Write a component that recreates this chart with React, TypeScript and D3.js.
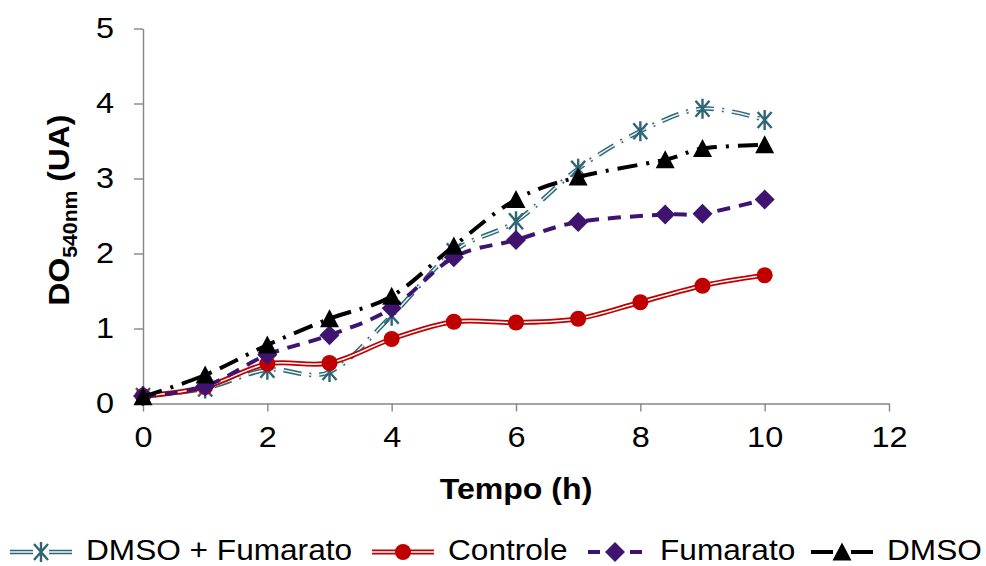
import React, { useEffect, useRef } from "react";
import * as d3 from "d3";

// Sampling times (h)
const hoursA = [0, 1, 2, 3, 4, 5, 6, 7, 8, 9, 10];
const hoursB = [0, 1, 2, 3, 4, 5, 6, 7, 8.4, 9, 10];

// Optical density at 540 nm (UA)
const dmsoFumarato = [0.1, 0.2, 0.45, 0.42, 1.17, 2.03, 2.43, 3.13, 3.63, 3.93, 3.78];
const controle = [0.1, 0.22, 0.53, 0.54, 0.86, 1.09, 1.08, 1.13, 1.35, 1.57, 1.71];
const fumarato = [0.1, 0.23, 0.65, 0.91, 1.27, 1.95, 2.18, 2.42, 2.52, 2.53, 2.72];
const dmso = [0.09, 0.38, 0.78, 1.13, 1.43, 2.1, 2.72, 3.02, 3.25, 3.4, 3.45];

const seriesNames = ["DMSO + Fumarato", "Controle", "Fumarato", "DMSO"];

const xTicks = [0, 2, 4, 6, 8, 10, 12];
const yTicks = [0, 1, 2, 3, 4, 5];

const FONT = "'Liberation Sans', Arial, Helvetica, sans-serif";
const STRETCH = 1.12; // slightly wide lettering

type Marker = "star" | "circle" | "diamond" | "triangle";
interface Style {
  color: string;
  inner?: string;
  outerW: number;
  innerW?: number;
  dash?: string;
  marker: Marker;
  keyGap: number;  // gap between key line and marker in the legend
  keyStart: number; // offset where the left key line starts
}

const styles: Style[] = [
  { color: "#2E6675", inner: "#E6F2F5", outerW: 4.5, innerW: 1.6, dash: "18 8 2 8", marker: "star", keyGap: 8, keyStart: 0 },
  { color: "#C00000", inner: "#FFFFFF", outerW: 5, innerW: 1.5, marker: "circle", keyGap: 0, keyStart: 0 },
  { color: "#3F1470", outerW: 4, dash: "13 9", marker: "diamond", keyGap: 15, keyStart: 4 },
  { color: "#000000", outerW: 4, dash: "20 9 3 9", marker: "triangle", keyGap: 9, keyStart: 0 },
];

function markerPath(m: Marker): string {
  switch (m) {
    case "circle": {
      const p = d3.path();
      p.arc(0, 0, 8, 0, Math.PI * 2);
      return p.toString();
    }
    case "diamond":
      return "M0,-10L10,0L0,10L-10,0Z";
    case "triangle":
      return "M0,-9.5L9.5,8.5L-9.5,8.5Z";
    case "star":
      return "M-7,-8L7,8M7,-8L-7,8M0,-10L0,10";
  }
}

export default function App() {
  const ref = useRef<SVGSVGElement>(null);

  useEffect(() => {
    const svg = d3.select(ref.current);
    svg.selectAll("*").remove();

    const x = d3.scaleLinear().domain([0, 12]).range([143, 889]);
    const y = d3.scaleLinear().domain([0, 5]).range([403.5, 28.5]);

    const axisColor = "#868686";

    // Axes
    const gy = svg
      .append("g")
      .attr("transform", `translate(${x(0)},0)`)
      .call(d3.axisLeft(y).tickValues(yTicks).tickSize(9).tickSizeOuter(0).tickPadding(20).tickFormat(d3.format("d")));
    const gx = svg
      .append("g")
      .attr("transform", `translate(0,${y(0)})`)
      .call(d3.axisBottom(x).tickValues(xTicks).tickSize(8).tickSizeOuter(0).tickPadding(15).tickFormat(d3.format("d")));
    [gx, gy].forEach((g) => {
      g.select(".domain").attr("stroke", axisColor).attr("stroke-width", 1.4);
      g.selectAll(".tick line").attr("stroke", axisColor).attr("stroke-width", 1.4);
      g.selectAll(".tick text")
        .attr("fill", "#000")
        .style("font-family", FONT)
        .style("font-size", "29px");
    });
    // widen the tick lettering about each label's anchor
    gy.selectAll<SVGTextElement, number>(".tick text").each(function () {
      const t = d3.select(this);
      const x0 = +t.attr("x");
      t.attr("x", x0 / STRETCH).attr("transform", `scale(${STRETCH},1)`);
    });
    gx.selectAll(".tick text").attr("transform", `scale(${STRETCH},1)`);

    const series = [
      { xs: hoursA, ys: dmsoFumarato },
      { xs: hoursA, ys: controle },
      { xs: hoursB, ys: fumarato },
      { xs: hoursB, ys: dmso },
    ];

    const line = d3
      .line<[number, number]>()
      .x((d) => x(d[0]))
      .y((d) => y(d[1]))
      .curve(d3.curveCardinal.tension(0));

    const drawMarker = (g: any, st: Style, cx: number, cy: number) => {
      const p = g.append("path").attr("d", markerPath(st.marker)).attr("transform", `translate(${cx},${cy})`);
      if (st.marker === "star") {
        p.attr("fill", "none").attr("stroke", st.color).attr("stroke-width", 2.4);
      } else {
        p.attr("fill", st.color).attr("stroke", "none");
      }
    };

    series.forEach((s, i) => {
      const st = styles[i];
      const pts: [number, number][] = s.xs.map((t, k) => [t, s.ys[k]]);
      const g = svg.append("g");
      g.append("path")
        .attr("d", line(pts))
        .attr("fill", "none")
        .attr("stroke", st.color)
        .attr("stroke-width", st.outerW)
        .attr("stroke-dasharray", st.dash ?? null);
      if (st.inner) {
        g.append("path")
          .attr("d", line(pts))
          .attr("fill", "none")
          .attr("stroke", st.inner)
          .attr("stroke-width", st.innerW!)
          .attr("stroke-dasharray", st.dash ?? null);
      }
      pts.forEach((d) => drawMarker(g, st, x(d[0]), y(d[1])));
    });

    // Axis titles
    svg
      .append("text")
      .attr("transform", `translate(516,499) scale(1.07,1)`)
      .attr("text-anchor", "middle")
      .style("font-family", FONT)
      .style("font-size", "30px")
      .style("font-weight", "bold")
      .text("Tempo (h)");

    const yt = svg
      .append("text")
      .attr("transform", "translate(69,210) rotate(-90) scale(1.06,1)")
      .attr("text-anchor", "middle")
      .style("font-family", FONT)
      .style("font-size", "30px")
      .style("font-weight", "bold");
    yt.append("tspan").text("DO");
    yt.append("tspan").attr("dy", 8).style("font-size", "20px").text("540nm");
    yt.append("tspan").attr("dy", -8).text(" (UA)");

    // Legend
    const legendX = [10, 372, 584, 811];
    const legendY = 552;
    seriesNames.forEach((name, i) => {
      const st = styles[i];
      const g = svg.append("g");
      const x0 = legendX[i];
      const x1 = x0 + 62;
      const seg = (a: number, b: number) => {
        g.append("line").attr("x1", a).attr("x2", b).attr("y1", legendY).attr("y2", legendY)
          .attr("stroke", st.color).attr("stroke-width", st.outerW);
        if (st.inner) {
          g.append("line").attr("x1", a).attr("x2", b).attr("y1", legendY).attr("y2", legendY)
            .attr("stroke", st.inner).attr("stroke-width", st.innerW!);
        }
      };
      const mid = (x0 + x1) / 2;
      if (st.keyGap > 0) {
        seg(x0 + st.keyStart, mid - st.keyGap);
        seg(mid + st.keyGap, x1 - st.keyStart);
      } else {
        seg(x0, x1);
      }
      drawMarker(g, st, mid, legendY);
      g.append("text")
        .attr("transform", `translate(${x1 + 14},560) scale(1.09,1)`)
        .style("font-family", FONT)
        .style("font-size", "29px")
        .text(name);
    });
  }, []);

  return (
    <div style={{ position: "absolute", left: 0, top: 0 }}>
      <svg ref={ref} width={986} height={566} style={{ display: "block", background: "#fff" }} />
    </div>
  );
}
